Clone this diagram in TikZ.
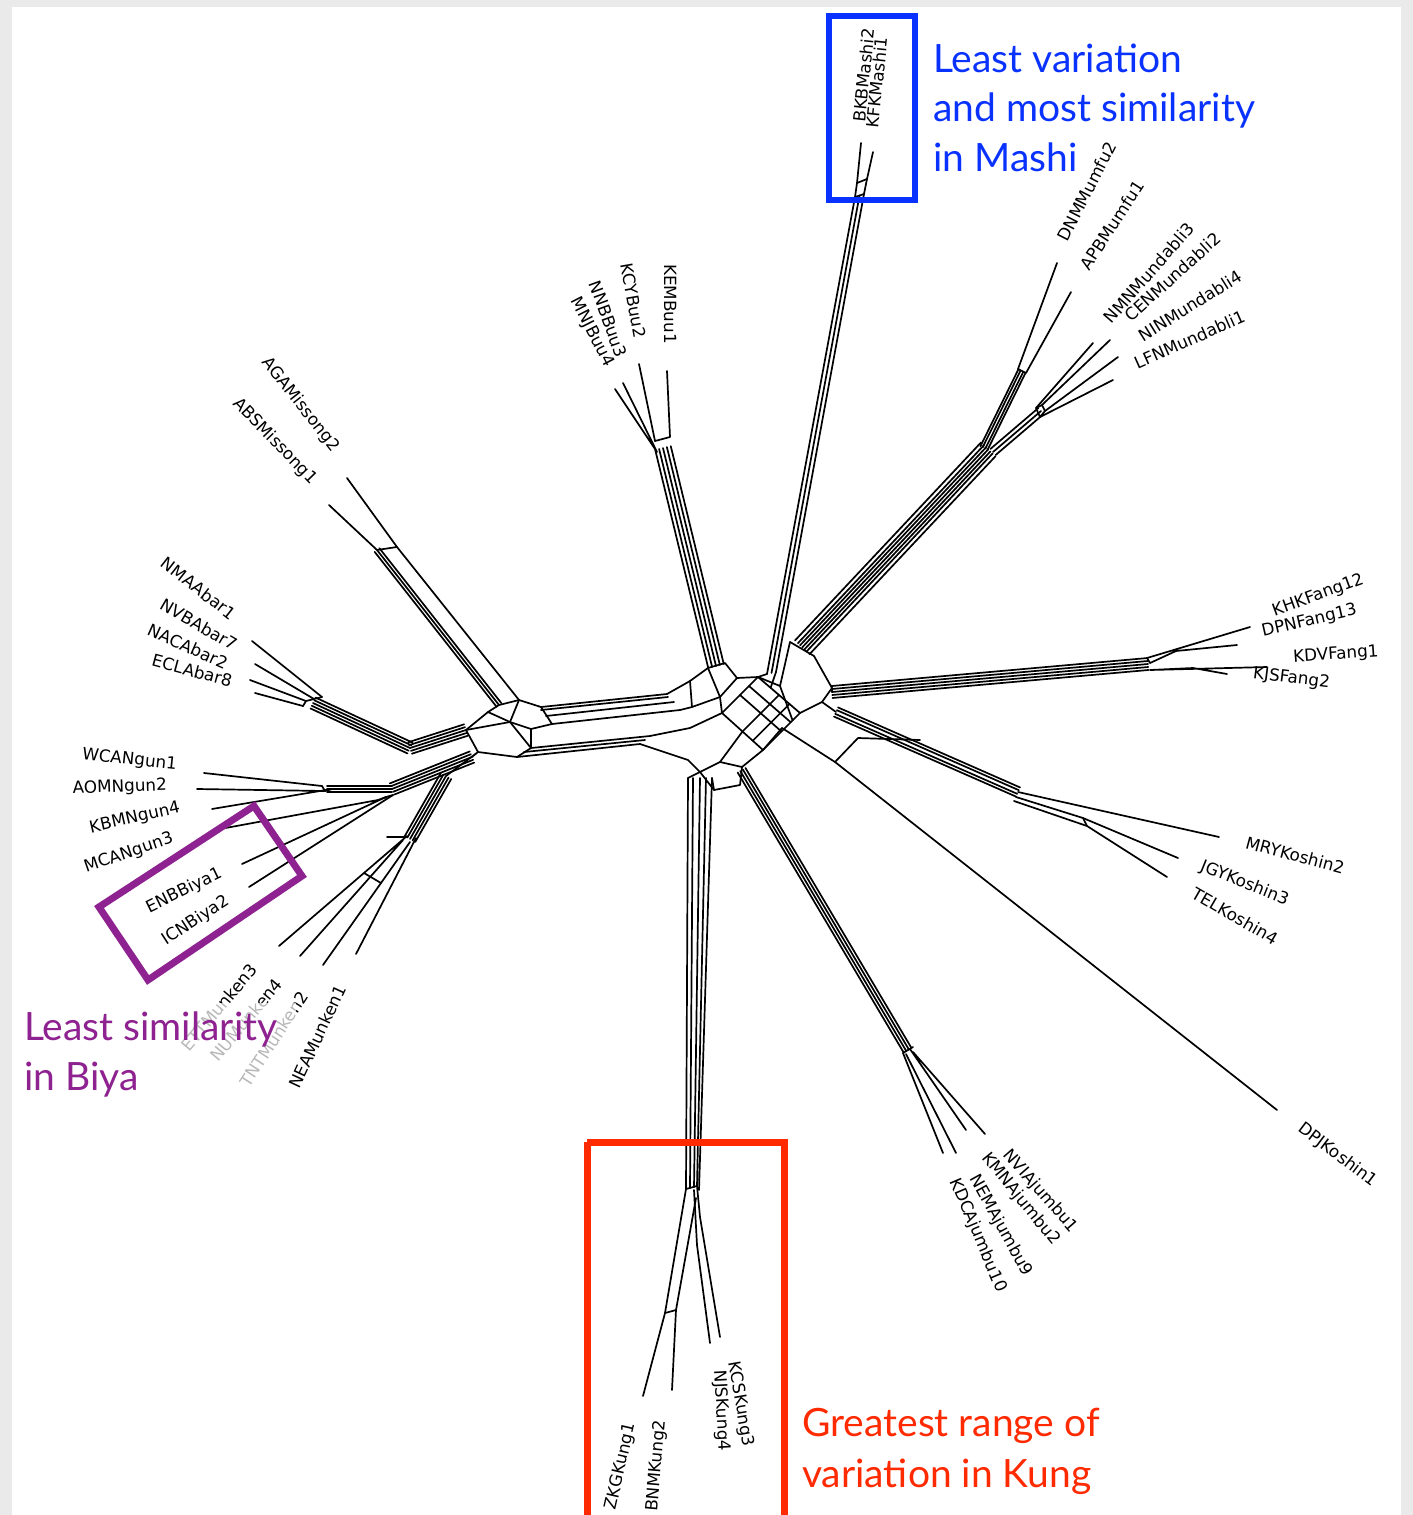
\documentclass[tikz,border=0pt]{standalone}
\usepackage{fontspec}
\usetikzlibrary{calc}
\newfontfamily\labfont{DejaVu Sans}
\newfontfamily\annfont{Lato}
\definecolor{bgray}{HTML}{EAEAEA}
\definecolor{mblue}{HTML}{0A32FF}
\definecolor{mpurple}{HTML}{8E2290}
\definecolor{mred}{HTML}{FF2A00}
\tikzset{
  net/.style={line width=1.7pt, line join=round, line cap=round},
  lab/.style={font=\labfont\fontsize{16.8}{17}\selectfont, inner sep=0pt},
  labR/.style={lab, anchor=west},
  labL/.style={lab, anchor=east},
  ann/.style={font=\annfont\fontsize{39}{45}\selectfont, inner sep=0pt, anchor=base west},
  hibox/.style={line width=7pt},
}
\newcommand{\bandlines}[3]{\foreach \o in {#3}{\draw[net] ($(#1)!\o pt!90:(#2)$) -- ($(#2)!\o pt!-90:(#1)$);}}
\begin{document}
\begin{tikzpicture}[x=1pt,y=-1pt]
\fill[bgray] (0,0) rectangle (1413,1515);
\fill[white] (12,7) rectangle (1401,1515);
\useasboundingbox (0,0) rectangle (1413,1515);

% ---------------- Mashi
\coordinate (tBKB) at (861,143);
\coordinate (tKFK) at (873,152);
\coordinate (ms1) at (857,183);
\coordinate (ms2) at (867,179);
\coordinate (ms3) at (855,197);
\coordinate (ms4) at (864,194);
\coordinate (mse1) at (767,674);
\coordinate (mse2) at (776,672);
\draw[net] (tBKB)--(ms1)--(ms3)--(mse1);
\draw[net] (tKFK)--(ms2)--(ms4)--(mse2);
\draw[net] (ms1)--(ms2) (ms3)--(ms4);
\draw[net] ($(ms3)!0.5!(ms4)$)--($(mse1)!0.5!(mse2)$);

% ---------------- Mumfu
\coordinate (tDNM) at (1057,263);
\coordinate (tAPB) at (1071,292);
\coordinate (mf1) at (1018,369);
\coordinate (mf2) at (1026,373);
\coordinate (mfA) at (1022,371);
\coordinate (mfB) at (984,448);
\draw[net] (tDNM)--(mf1)--(mf2)--(tAPB);
\bandlines{mfA}{mfB}{-4,-1.5,1.5,4}

% ---------------- Mundabli
\coordinate (tNMN) at (1093,343);
\coordinate (tCEN) at (1110,340);
\coordinate (tNIN) at (1118,357);
\coordinate (tLFN) at (1113,380);
\coordinate (md1) at (1036,408);
\coordinate (md2) at (1042,405);
\coordinate (md3) at (1045,411);
\coordinate (md4) at (1040,417);
\draw[net] (tNMN)--(md1) (tCEN)--(md2) (tNIN)--(md3) (tLFN)--(md4);
\draw[net] (md1)--(md2)--(md3)--(md4)--cycle;
\coordinate (mdA) at (1041,411);
\coordinate (mdB) at (993,452);
\bandlines{mdA}{mdB}{-4,0,4}

% combined Mumfu/Mundabli band
\coordinate (cbA) at (989,450);
\coordinate (cbB) at (803,648);
\bandlines{cbA}{cbB}{-11,-7,-4,-1,2,5,9}

% ---------------- Buu
\coordinate (tKEM) at (667,371);
\coordinate (tKCY) at (639,364);
\coordinate (tNNB) at (623,383);
\coordinate (tMNJ) at (615,389);
\coordinate (bu1) at (670,437);
\coordinate (bu2) at (655,441);
\coordinate (bu3) at (657,452);
\draw[net] (tKEM)--(bu1)--(bu2)--(tKCY);
\draw[net] (tNNB)--(bu3) (tMNJ)--(bu3);
\coordinate (buA) at (663,448);
\coordinate (buB) at (716,666);
\bandlines{buA}{buB}{-8,-4,0,4,8}

% ---------------- Missong
\coordinate (tAGA) at (347,478);
\coordinate (tABS) at (329,505);
\coordinate (mi1) at (377,550);
\coordinate (mi2) at (397,547);
\coordinate (miE) at (499,705);
\coordinate (miF) at (519,700);
\draw[net] (tABS)--(mi1)--(mi2)--(tAGA);
\draw[net] (mi2)--(miF);
\bandlines{mi1}{miE}{-3,0,3}

% ---------------- Abar
\coordinate (tNMA) at (252,641);
\coordinate (tNVB) at (255,664);
\coordinate (tNAC) at (250,680);
\coordinate (tECL) at (255,693);
\coordinate (ab1) at (322,697);
\coordinate (ab2) at (314,699);
\coordinate (ab3) at (306,701);
\coordinate (ab4) at (303,706);
\draw[net] (tNMA)--(ab1) (tNVB)--(ab2) (tNAC)--(ab3) (tECL)--(ab4);
\draw[net] (ab4)--(ab3)--(ab2)--(ab1);
\coordinate (abA) at (313,703);
\coordinate (abB) at (410,748);
\bandlines{abA}{abB}{-6,-3,0,3,6}

% ---------------- Ngun / Biya
\coordinate (tWCA) at (204,773);
\coordinate (tAOM) at (197,789);
\coordinate (tKBM) at (212,809);
\coordinate (tMCA) at (220,829);
\coordinate (tENB) at (242,864);
\coordinate (tICN) at (249,887);
\coordinate (ng1) at (322,786);
\coordinate (ng2) at (325,791);
\coordinate (ng3) at (332,789);
\coordinate (ng4) at (378,800);
\coordinate (ng5) at (386,797);
\coordinate (ng6) at (393,795);
\draw[net] (tWCA)--(ng1) (tAOM)--(ng2) (tKBM)--(ng3);
\draw[net] (ng1)--(ng2)--(ng3);
\draw[net] (tMCA)--(ng4) (tENB)--(ng5) (tICN)--(ng6);
\coordinate (ngA) at (327,789);
\coordinate (ngB) at (392,789);
\bandlines{ngA}{ngB}{-3,0,3}
\draw[net] (ng4)--(ng5)--(ng6);
\coordinate (ngC) at (472,757);
\bandlines{ngB}{ngC}{-6,-3,0,3,6}

% ---------------- Munken
\coordinate (tMK3) at (279,946);
\coordinate (tMK4) at (300,956);
\coordinate (tMK2) at (323,965);
\coordinate (tMK1) at (356,954);
\coordinate (mk3) at (407,836);
\coordinate (mk4) at (403,840);
\coordinate (mk2) at (410,842);
\coordinate (mk1) at (416,838);
\draw[net] (tMK3)--(mk3) (tMK4)--(mk4) (tMK2)--(mk2) (tMK1)--(mk1);
\draw[net] (364,873)--(381,883) (387,837)--(407,837);
\coordinate (mkA) at (410,839);
\coordinate (mkB) at (446,776);
\bandlines{mkA}{mkB}{-6,-3,0,3,6}

% ---------------- Fang
\coordinate (tKHK) at (1250,627);
\coordinate (tDPN) at (1237,645);
\coordinate (tKDV) at (1267,667);
\coordinate (tKJS) at (1227,674);
\coordinate (fa1) at (1147,658);
\coordinate (fa2) at (1176,651);
\coordinate (fa3) at (1150,663);
\coordinate (fa4) at (1193,668);
\coordinate (fa5) at (1150,670);
\draw[net] (tKHK)--(fa1) (tDPN)--(fa2)--(fa3) (tKDV)--(fa5) (tKJS)--(fa4)--(fa5);
\draw[net] (fa1)--(fa3);
\coordinate (fA) at (1148,664);
\coordinate (fB) at (832,692);
\bandlines{fA}{fB}{-6,-3,0,3,6}

% ---------------- Koshin
\coordinate (tMRY) at (1219,837);
\coordinate (tJGY) at (1178,858);
\coordinate (tTEL) at (1167,877);
\coordinate (tDPJ) at (1277,1110);
\coordinate (kA) at (836,712);
\coordinate (kB) at (1018,792);
\bandlines{kA}{kB}{-5,-2,2,5}
\coordinate (kC) at (1083,818);
\coordinate (kD) at (1087,826);
\draw[net] (kB)--(tMRY);
\draw[net] (1016,797)--(kC)--(tJGY);
\draw[net] (1014,801)--(kD)--(tTEL);
\draw[net] (kC)--(kD);
\coordinate (kE) at (835,762);
\coordinate (kF) at (858,738);
\coordinate (kG) at (920,740);
\draw[net] (tDPJ)--(kE)--(kF)--(kG);
\draw[net] (782,728)--(kE);

% ---------------- Ajumbu
\coordinate (tNVI) at (985,1134);
\coordinate (tKMN) at (966,1130);
\coordinate (tNEM) at (956,1153);
\coordinate (tKDC) at (943,1153);
\coordinate (ajA) at (742,770);
\coordinate (ajB) at (908,1050);
\bandlines{ajA}{ajB}{-5,-2,1,4}
\draw[net] (tNVI)--(913,1052) (tKMN)--(910,1049) (tNEM)--(906,1054) (tKDC)--(903,1053);
\draw[net] (903,1053)--(913,1047);

% ---------------- Kung
\coordinate (tZKG) at (643,1396);
\coordinate (tBNM) at (672,1390);
\coordinate (tKCS) at (720,1337);
\coordinate (tNJS) at (710,1343);
\coordinate (ku1) at (665,1313);
\coordinate (ku2) at (686,1189);
\coordinate (ku3) at (697,1186);
\coordinate (ku4) at (676,1310);
\coordinate (ku5) at (696,1198);
\coordinate (ku6) at (700,1217);
\coordinate (ku7) at (697,1245);
\draw[net] (tZKG)--(ku1)--(ku2)--(ku3);
\draw[net] (tBNM)--(ku4)--(ku5);
\draw[net] (ku1)--(ku4);
\draw[net] (tKCS)--(ku6)--(ku3);
\draw[net] (tNJS)--(ku7)--(694,1190);
\draw[net] (686,1189)--(688,778) (690,1188)--(693,778) (694,1187)--(700,778) (697,1186)--(706,778) (699,1190)--(712,778);

% ---------------- central left hub
\coordinate (L1) at (499,705);
\coordinate (L2) at (519,700);
\coordinate (L3) at (541,707);
\coordinate (L4) at (552,724);
\coordinate (L5) at (531,729);
\coordinate (L6) at (510,722);
\coordinate (L7) at (488,712);
\coordinate (L8) at (466,730);
\coordinate (L9) at (478,752);
\coordinate (L10) at (517,757);
\coordinate (L11) at (531,748);
\draw[net] (L1)--(L2)--(L3)--(L4)--(L5)--(L6)--(L7)--cycle;
\draw[net] (L2)--(L6) (L6)--(L8);
\draw[net] (L7)--(L8)--(L9)--(L10)--(L11)--(L5);
\draw[net] (L11)--(L6);
\bandlines{abB}{L8}{-6,-3,0,3,6}
\draw[net] (ngC)--(L9) (mkB)--(L9);

% ---------------- central right hub
\coordinate (R1) at (667,694);
\coordinate (R2) at (680,710);
\coordinate (R3) at (650,736);
\coordinate (R4) at (640,744);
\coordinate (H1) at (690,681);
\coordinate (H2) at (708,668);
\coordinate (H3) at (725,663);
\coordinate (H4) at (737,678);
\coordinate (H5) at (720,697);
\coordinate (H6) at (692,707);
\draw[net] (R1)--(H1)--(H2)--(H3)--(H4)--(H5)--(H6)--(R2);
\draw[net] (H1)--(H6) (H2)--(H5);
\draw[net] (L3)--(R1) (541,710)--(668,697) (L4)--(R2) (546,716)--(674,702);
\draw[net] (L11)--(R3) (L10)--(R4) (524,752)--(645,740);
\coordinate (SN) at (758,677);
\coordinate (SE) at (800,713);
\coordinate (SS) at (763,750);
\coordinate (SW) at (722,713);
\draw[net] (SN)--(SE)--(SS)--(SW)--cycle;
\draw[net] ($(SN)!0.5!(SW)$)--($(SE)!0.5!(SS)$) ($(SN)!0.5!(SE)$)--($(SW)!0.5!(SS)$);
\draw[net] ($(SN)!0.25!(SW)$)--($(SE)!0.25!(SS)$) ($(SN)!0.75!(SE)$)--($(SW)!0.75!(SS)$);
\draw[net] (H4)--(SN) (H5)--(SW);
\draw[net] (mse1)--(SN) (mse2)--($(SN)!0.3!(SE)$);
\coordinate (F1) at (790,642);
\coordinate (F2) at (814,656);
\coordinate (F3) at (832,688);
\coordinate (F4) at (822,702);
\coordinate (F5) at (780,686);
\draw[net] (F1)--(F2)--(F3)--(F4)--(SE);
\draw[net] (F1)--(F5)--(SN) (F5)--($(SE)!0.2!(SS)$);
\draw[net] (F4)--(kA) (F3)--(fB);
\coordinate (B1) at (700,772);
\coordinate (B2) at (720,762);
\coordinate (B3) at (742,767);
\coordinate (B4) at (740,785);
\coordinate (B5) at (714,790);
\draw[net] (R3)--(690,728)--(SW);
\draw[net] (R4)--(688,760)--(B1);
\draw[net] (B1)--(B2)--(B3)--(B4)--(B5)--cycle;
\draw[net] (B2)--($(SW)!0.5!(SS)$) (B3)--(SS);
\draw[net] (B1)--(688,778) (B5)--(712,778);
\draw[net] (SS)--(782,728);

% ---------------- labels
\node[labR, rotate=84] (lBKB) at (859,122) {BKBMashi2};
\node[labR, rotate=84] (lKFK) at (872,128) {KFKMashi1};
\node[labR, rotate=63] (lDNM) at (1062,240) {DNMMumfu2};
\node[labR, rotate=57] (lAPB) at (1084,268) {APBMumfu1};
\node[labR, rotate=49] (lNMN) at (1107,321) {NMNMundabli3};
\node[labR, rotate=42] (lCEN) at (1127,318) {CENMundabli2};
\node[labR, rotate=32] (lNIN) at (1140,337) {NINMundabli4};
\node[labR, rotate=24] (lLFN) at (1135,364) {LFNMundabli1};
\node[labR, rotate=20] (lKHK) at (1273,612) {KHKFang12};
\node[labR, rotate=13] (lDPN) at (1262,632) {DPNFang13};
\node[labR, rotate=4] (lKDV) at (1293,658) {KDVFang1};
\node[labR, rotate=-7] (lKJS) at (1253,674) {KJSFang2};
\node[labR, rotate=-15] (lMRY) at (1246,842) {MRYKoshin2};
\node[labR, rotate=-22] (lJGY) at (1201,866) {JGYKoshin3};
\node[labR, rotate=-30] (lTEL) at (1193,892) {TELKoshin4};
\node[labR, rotate=-37] (lDPJ) at (1300,1127) {DPJKoshin1};
\node[labR, rotate=-49] (lNVI) at (1006,1152) {NVIAjumbu1};
\node[labR, rotate=-51] (lKMN) at (985,1155) {KMNAjumbu2};
\node[labR, rotate=-61] (lNEM) at (973,1176) {NEMAjumbu9};
\node[labR, rotate=-67] (lKDC) at (954,1179) {KDCAjumbu10};
\node[labR, rotate=-80] (lKCS) at (733,1362) {KCSKung3};
\node[labR, rotate=-87] (lNJS) at (719,1370) {NJSKung4};
\node[labL, rotate=77] (lZKG) at (631,1423) {ZKGKung1};
\node[labL, rotate=85] (lBNM) at (661,1420) {BNMKung2};
\node[labL, rotate=-90] (lKEM) at (670,344) {KEMBuu1};
\node[labL, rotate=-80] (lKCY) at (640,338) {KCYBuu2};
\node[labL, rotate=-70] (lNNB) at (622,357) {NNBBuu3};
\node[labL, rotate=-63] (lMNJ) at (609,366) {MNJBuu4};
\node[labL, rotate=-52] (lAGA) at (336,450) {AGAMissong2};
\node[labL, rotate=-46] (lABS) at (314,482) {ABSMissong1};
\node[labL, rotate=-38] (lNMA) at (234,616) {NMAAbar1};
\node[labL, rotate=-30] (lNVB) at (236,646) {NVBAbar7};
\node[labL, rotate=-24] (lNAC) at (227,664) {NACAbar2};
\node[labL, rotate=-15] (lECL) at (232,681) {ECLAbar8};
\node[labL, rotate=-6] (lWCA) at (177,765) {WCANgun1};
\node[labL, rotate=2] (lAOM) at (167,786) {AOMNgun2};
\node[labL, rotate=13] (lKBM) at (180,808) {KBMNgun4};
\node[labL, rotate=19] (lMCA) at (173,838) {MCANgun3};
\node[labL, rotate=26] (lENB) at (221,873) {ENBBiya1};
\node[labL, rotate=33] (lICN) at (228,900) {ICNBiya2};
\node[labL, rotate=50] (lMK3) at (254,966) {ETTMunken3};
\node[labL, rotate=50] (lMK4) at (279,981) {NUMunken4};
\node[labL, rotate=57] (lMK2) at (304,993) {TNTMunken2};

% ---------------- annotations
\fill[white, opacity=0.72] (18,1003) rectangle (296,1100);
\node[labL, rotate=65] (lMK1) at (341,986) {NEAMunken1};
\node[ann, text=mblue] (a1) at (933,72) {Least variation};
\node[ann, text=mblue] (a2) at (933,121) {and most similarity};
\node[ann, text=mblue] (a3) at (933,171) {in Mashi};
\node[ann, text=mpurple] (a4) at (24,1040) {Least similarity};
\node[ann, text=mpurple] (a5) at (24,1090) {in Biya};
\node[ann, text=mred] (a6) at (802,1436) {Greatest range of};
\node[ann, text=mred] (a7) at (802,1487) {variation in Kung};

% ---------------- highlight boxes
\draw[hibox, mblue, line width=6pt] (829,16) rectangle (915,200);
\draw[hibox, mpurple, line join=miter] (99,907)--(254,806)--(302,876)--(148,980)--cycle;
\draw[hibox, mred] (587,1142) -- (587,1520) (587,1142) -- (784,1142) -- (784,1520);
\end{tikzpicture}
\end{document}
